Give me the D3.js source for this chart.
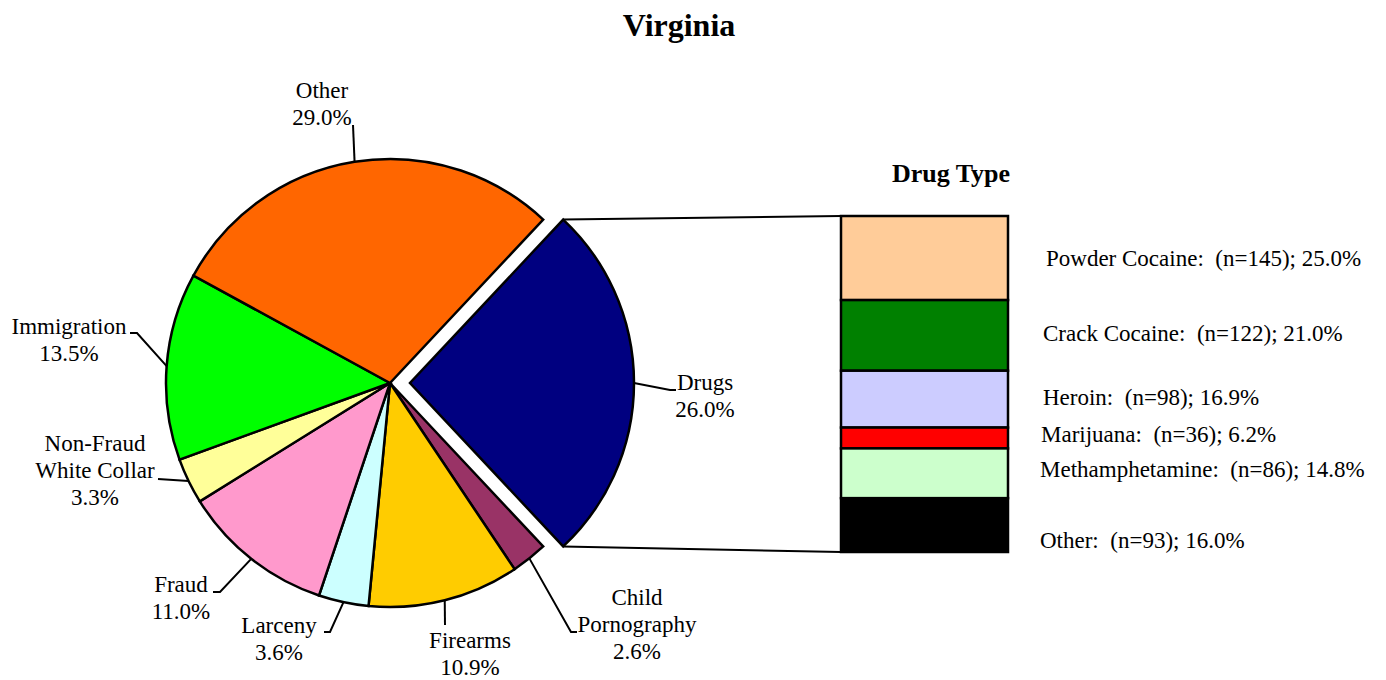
<!DOCTYPE html>
<meta charset="utf-8">
<style>
    body { margin: 0; background: #fff; }
    text { font-family: "Liberation Serif", "Times New Roman", serif; fill: #000; }
    .slice, .seg { stroke: #000; stroke-width: 2.5px; }
    .leader { fill: none; stroke: #000; stroke-width: 2px; }
</style>
<body>
<script src="https://cdn.jsdelivr.net/npm/d3@7"></script>
<script>
// offence categories (clockwise from the exploded Drugs slice)
var offenses = ["Drugs", "Child Pornography", "Firearms", "Larceny", "Fraud",
                "Non-Fraud White Collar", "Immigration", "Other"];
var offensePct = [26.0, 2.6, 10.9, 3.6, 11.0, 3.3, 13.5, 29.0];
var offenseColors = ["#000080", "#993366", "#FFCC00", "#CCFFFF", "#FF99CC",
                     "#FFFF99", "#00FF00", "#FF6600"];

// drug type breakdown
var drugTypes = ["Powder Cocaine", "Crack Cocaine", "Heroin", "Marijuana", "Methamphetamine", "Other"];
var drugCounts = [145, 122, 98, 36, 86, 93];
var drugPct = [25.0, 21.0, 16.9, 6.2, 14.8, 16.0];
var drugColors = ["#FFCC99", "#008000", "#CCCCFF", "#FF0000", "#CCFFCC", "#000000"];

var width = 1386, height = 680;
var cx = 390, cy = 383, radius = 224, explode = 20;

var svg = d3.select("body").append("svg")
    .attr("width", width)
    .attr("height", height);

svg.append("text")
    .attr("x", 679).attr("y", 36)
    .attr("text-anchor", "middle")
    .style("font-size", "32px").style("font-weight", "bold")
    .text("Virginia");

// pie, rotated so the Drugs slice is centred on 3 o'clock
var total = d3.sum(offensePct);
var start = Math.PI / 2 - Math.PI * offensePct[0] / total;
var pie = d3.pie().sort(null).startAngle(start).endAngle(start + 2 * Math.PI);
var arcs = pie(offensePct);
var arc = d3.arc().innerRadius(0).outerRadius(radius);
var rim = d3.arc().innerRadius(radius).outerRadius(radius);

function offset(d, i) {
    if (i !== 0) return [0, 0];
    var a = (d.startAngle + d.endAngle) / 2;
    return [explode * Math.sin(a), -explode * Math.cos(a)];
}

var g = svg.append("g").attr("transform", "translate(" + cx + "," + cy + ")");

g.selectAll(".slice")
    .data(arcs)
    .enter().append("path")
    .attr("class", "slice")
    .attr("fill", function (d, i) { return offenseColors[i]; })
    .attr("transform", function (d, i) { return "translate(" + offset(d, i) + ")"; })
    .attr("d", arc);

// label layout (absolute page coordinates)
var labelLayout = [
    {x: 705, y: 390, anchor: "middle", lines: ["Drugs"], pts: [[670, 390], [676, 390]]},
    {x: 637, y: 605, anchor: "middle", lines: ["Child", "Pornography"], pts: [[571, 632], [577, 632]]},
    {x: 470, y: 648, anchor: "middle", lines: ["Firearms"], pts: [[445, 625]]},
    {x: 279, y: 633, anchor: "middle", lines: ["Larceny"], pts: [[330, 632], [324, 632]]},
    {x: 181, y: 592, anchor: "middle", lines: ["Fraud"], pts: [[220, 592], [213, 592]]},
    {x: 95, y: 451, anchor: "middle", lines: ["Non-Fraud", "White Collar"], pts: [[158, 479]]},
    {x: 69, y: 334, anchor: "middle", lines: ["Immigration"], pts: [[137, 333], [130, 333]]},
    {x: 322, y: 98, anchor: "middle", lines: ["Other"], pts: [[353, 125]]}
];

arcs.forEach(function (d, i) {
    var L = labelLayout[i];
    var o = offset(d, i);
    var c = rim.centroid(d);
    var p0 = [cx + c[0] + o[0], cy + c[1] + o[1]];
    svg.append("path")
        .attr("class", "leader")
        .attr("d", d3.line()([p0].concat(L.pts)));
    var t = svg.append("text")
        .attr("text-anchor", L.anchor)
        .style("font-size", "23px");
    L.lines.concat([d3.format(".1f")(offensePct[i]) + "%"]).forEach(function (s, k) {
        t.append("tspan").attr("x", L.x).attr("y", L.y + k * 27).text(s);
    });
});

// stacked bar of drug types
var barX0 = 841, barX1 = 1008;
var y = d3.scaleLinear().domain([0, d3.sum(drugPct)]).range([216, 552]);
var cum = 0;
var segs = drugPct.map(function (v, i) {
    var s = {y0: cum, y1: cum + v, i: i};
    cum += v;
    return s;
});

// connector lines from the exploded slice to the bar
var dr = arcs[0], od = offset(dr, 0);
var topPt = [cx + od[0] + radius * Math.sin(dr.startAngle), cy + od[1] - radius * Math.cos(dr.startAngle)];
var botPt = [cx + od[0] + radius * Math.sin(dr.endAngle), cy + od[1] - radius * Math.cos(dr.endAngle)];
svg.append("path").attr("class", "leader").attr("stroke-width", 2.5)
    .attr("d", d3.line()([topPt, [barX0, y(0)]]));
svg.append("path").attr("class", "leader").attr("stroke-width", 2.5)
    .attr("d", d3.line()([botPt, [barX0, y(cum)]]));

svg.selectAll(".seg")
    .data(segs)
    .enter().append("rect")
    .attr("class", "seg")
    .attr("x", barX0)
    .attr("width", barX1 - barX0)
    .attr("y", function (d) { return y(d.y0); })
    .attr("height", function (d) { return y(d.y1) - y(d.y0); })
    .attr("fill", function (d) { return drugColors[d.i]; });

var labelNudge = [0, -2, -2, -4, -4, 15];
var labelIndent = [3, 0, 0, -2, -3, -3];
svg.selectAll(".drug-label")
    .data(segs)
    .enter().append("text")
    .attr("class", "drug-label")
    .attr("x", function (d) { return 1043 + labelIndent[d.i]; })
    .attr("y", function (d) { return (y(d.y0) + y(d.y1)) / 2 + labelNudge[d.i]; })
    .attr("dy", "0.35em")
    .style("font-size", "23px")
    .style("white-space", "pre")
    .text(function (d) {
        return drugTypes[d.i] + ":  (n=" + drugCounts[d.i] + "); " + d3.format(".1f")(drugPct[d.i]) + "%";
    });

svg.append("text")
    .attr("x", 951).attr("y", 182)
    .attr("text-anchor", "middle")
    .style("font-size", "26px").style("font-weight", "bold")
    .text("Drug Type");
</script>
</body>
